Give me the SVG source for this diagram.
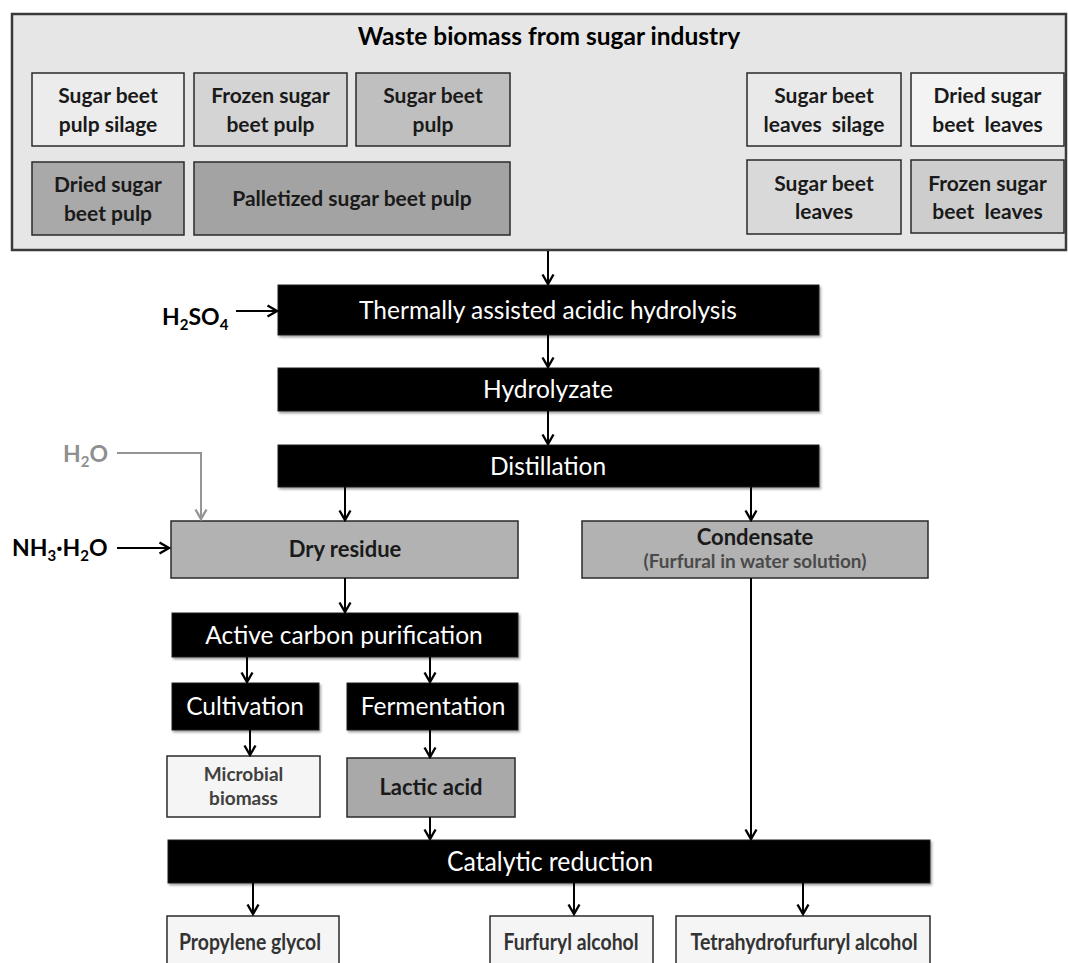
<svg xmlns="http://www.w3.org/2000/svg" width="1068" height="963" viewBox="0 0 1068 963">
<style>
  .blk{fill:#000;stroke:#222;stroke-width:1;filter:url(#sh)}
  .gbox{stroke:#2a2a2a;stroke-width:1.5}
  .wt{font-family:Lato,"Open Sans",sans-serif;font-size:24.5px;fill:#fff;text-anchor:middle}
  .bt{font-family:Lato,"Open Sans",sans-serif;font-size:21px;font-weight:bold;fill:#1a1a1a;text-anchor:middle}
  .chem{font-family:Lato,"Open Sans",sans-serif;font-size:23px;font-weight:bold;fill:#000}
  .conn line,.conn polyline{stroke:#000;stroke-width:2;fill:none;marker-end:url(#ah)}
  .conn .gray{stroke:#959595;marker-end:url(#ahg)}
</style>
<defs>
  <filter id="sh" x="-5%" y="-20%" width="110%" height="150%">
    <feDropShadow dx="1.5" dy="2" stdDeviation="1.2" flood-color="#000" flood-opacity="0.35"/>
  </filter>
  <marker id="ah" viewBox="0 0 14 14" refX="12.5" refY="7" markerWidth="14" markerHeight="14" markerUnits="userSpaceOnUse" orient="auto">
    <path d="M3,1.5 L12.5,7 L3,12.5" fill="none" stroke="#000" stroke-width="2.4"/>
  </marker>
  <marker id="ahg" viewBox="0 0 14 14" refX="12.5" refY="7" markerWidth="14" markerHeight="14" markerUnits="userSpaceOnUse" orient="auto">
    <path d="M3,1.5 L12.5,7 L3,12.5" fill="none" stroke="#959595" stroke-width="2.4"/>
  </marker>
</defs>
<rect width="1068" height="963" fill="#fff"/>

<g id="waste-biomass">
  <rect x="12" y="14" width="1054" height="236" fill="#e6e6e6" stroke="#3a3a3a" stroke-width="2.5"/>
  <text x="549" y="45" class="bt" style="font-size:24.5px;fill:#000">Waste biomass from sugar industry</text>
</g>

<g id="sbp-silage">
  <rect x="32" y="73" width="152" height="73" fill="#ececec" class="gbox"/>
  <text class="bt" x="108" y="103">Sugar beet</text>
  <text class="bt" x="108" y="132">pulp silage</text>
</g>
<g id="frozen-sbp">
  <rect x="194" y="73" width="153" height="73" fill="#d4d4d4" class="gbox"/>
  <text class="bt" x="270.5" y="103">Frozen sugar</text>
  <text class="bt" x="270.5" y="132">beet pulp</text>
</g>
<g id="sbp">
  <rect x="356" y="73" width="154" height="73" fill="#bfbfbf" class="gbox"/>
  <text class="bt" x="433" y="103">Sugar beet</text>
  <text class="bt" x="433" y="132">pulp</text>
</g>
<g id="dried-sbp">
  <rect x="32" y="162" width="152" height="73" fill="#a9a9a9" class="gbox"/>
  <text class="bt" x="108" y="192">Dried sugar</text>
  <text class="bt" x="108" y="221">beet pulp</text>
</g>
<g id="palletized-sbp">
  <rect x="194" y="162" width="316" height="73" fill="#a3a3a3" class="gbox"/>
  <text class="bt" x="352" y="206">Palletized sugar beet pulp</text>
</g>
<g id="sbl-silage">
  <rect x="747" y="73" width="154" height="73" fill="#e9e9e9" class="gbox"/>
  <text class="bt" x="824" y="103">Sugar beet</text>
  <text class="bt" x="824" y="132" xml:space="preserve">leaves  silage</text>
</g>
<g id="dried-sbl">
  <rect x="911" y="73" width="153" height="73" fill="#f3f3f3" class="gbox"/>
  <text class="bt" x="987.5" y="103">Dried sugar</text>
  <text class="bt" x="987.5" y="132" xml:space="preserve">beet  leaves</text>
</g>
<g id="sbl">
  <rect x="747" y="160" width="154" height="74" fill="#d9d9d9" class="gbox"/>
  <text class="bt" x="824" y="191">Sugar beet</text>
  <text class="bt" x="824" y="219">leaves</text>
</g>
<g id="frozen-sbl">
  <rect x="911" y="160" width="153" height="73" fill="#cdcdcd" class="gbox"/>
  <text class="bt" x="987.5" y="191">Frozen sugar</text>
  <text class="bt" x="987.5" y="219" xml:space="preserve">beet  leaves</text>
</g>

<g id="h2so4">
  <text class="chem" x="162" y="325">H<tspan font-size="15" dy="5">2</tspan><tspan dy="-5">SO</tspan><tspan font-size="15" dy="5">4</tspan></text>
</g>
<g id="h2o">
  <text class="chem" x="63" y="462" style="fill:#8f8f8f">H<tspan font-size="15" dy="5">2</tspan><tspan dy="-5">O</tspan></text>
</g>
<g id="nh3h2o">
  <text class="chem" x="12" y="556">NH<tspan font-size="15" dy="5">3</tspan><tspan dy="-5">·H</tspan><tspan font-size="15" dy="5">2</tspan><tspan dy="-5">O</tspan></text>
</g>

<g id="hydrolysis">
  <rect x="278" y="285" width="541" height="50" class="blk"/>
  <text class="wt" x="548" y="319">Thermally assisted acidic hydrolysis</text>
</g>
<g id="hydrolyzate">
  <rect x="278" y="368" width="541" height="43" class="blk"/>
  <text class="wt" x="548" y="398">Hydrolyzate</text>
</g>
<g id="distillation">
  <rect x="278" y="445" width="541" height="42" class="blk"/>
  <text class="wt" x="548" y="475">Distillation</text>
</g>
<g id="dry-residue">
  <rect x="171" y="521" width="347" height="57" fill="#b2b2b2" class="gbox"/>
  <text class="bt" x="345" y="557" style="font-size:22px">Dry residue</text>
</g>
<g id="condensate">
  <rect x="582" y="521" width="346" height="57" fill="#b2b2b2" class="gbox"/>
  <text class="bt" x="755" y="545" style="font-size:22px">Condensate</text>
  <text class="bt" x="755" y="568" style="font-size:19px;fill:#4a4a4a">(Furfural in water solution)</text>
</g>
<g id="active-carbon">
  <rect x="172" y="613" width="346" height="44" class="blk"/>
  <text class="wt" x="344" y="644">Active carbon purification</text>
</g>
<g id="cultivation">
  <rect x="172" y="683" width="147" height="47" class="blk"/>
  <text class="wt" x="245" y="715">Cultivation</text>
</g>
<g id="fermentation">
  <rect x="347" y="683" width="171" height="47" class="blk"/>
  <text class="wt" x="433" y="715">Fermentation</text>
</g>
<g id="microbial-biomass">
  <rect x="167" y="756" width="153" height="61" fill="#f5f5f5" class="gbox"/>
  <text class="bt" x="243.5" y="781" style="font-size:19px;fill:#404040">Microbial</text>
  <text class="bt" x="243.5" y="805" style="font-size:19px;fill:#404040">biomass</text>
</g>
<g id="lactic-acid">
  <rect x="347" y="758" width="168" height="59" fill="#a9a9a9" class="gbox"/>
  <text class="bt" x="431" y="795" style="font-size:22px">Lactic acid</text>
</g>
<g id="catalytic-reduction">
  <rect x="168" y="840" width="762" height="43" class="blk"/>
  <text class="wt" x="550" y="871" style="font-size:26px" textLength="206" lengthAdjust="spacingAndGlyphs">Catalytic reduction</text>
</g>
<g id="propylene-glycol">
  <rect x="167" y="916" width="172" height="60" fill="#f5f5f5" class="gbox"/>
  <text class="bt" x="250" y="950" style="font-size:22.5px;fill:#333" textLength="142" lengthAdjust="spacingAndGlyphs">Propylene glycol</text>
</g>
<g id="furfuryl-alcohol">
  <rect x="490" y="916" width="163" height="60" fill="#f5f5f5" class="gbox"/>
  <text class="bt" x="571" y="950" style="font-size:22.5px;fill:#333" textLength="135" lengthAdjust="spacingAndGlyphs">Furfuryl alcohol</text>
</g>
<g id="thfa">
  <rect x="676" y="916" width="254" height="60" fill="#f5f5f5" class="gbox"/>
  <text class="bt" x="804" y="950" style="font-size:22.5px;fill:#333" textLength="227" lengthAdjust="spacingAndGlyphs">Tetrahydrofurfuryl alcohol</text>
</g>

<g id="connectors" class="conn">
  <line x1="548" y1="251" x2="548" y2="284"/>
  <line x1="236" y1="311" x2="277" y2="311"/>
  <line x1="548" y1="335" x2="548" y2="367"/>
  <line x1="548" y1="411" x2="548" y2="444"/>
  <line x1="345" y1="487" x2="345" y2="520"/>
  <line x1="751" y1="487" x2="751" y2="520"/>
  <polyline class="gray" points="117,453 201,453 201,519"/>
  <line x1="117" y1="548" x2="169" y2="548"/>
  <line x1="345" y1="578" x2="345" y2="612"/>
  <line x1="247" y1="657" x2="247" y2="682"/>
  <line x1="430" y1="657" x2="430" y2="682"/>
  <line x1="250" y1="730" x2="250" y2="755"/>
  <line x1="430" y1="730" x2="430" y2="757"/>
  <line x1="430" y1="817" x2="430" y2="839"/>
  <line x1="751" y1="578" x2="751" y2="839"/>
  <line x1="253" y1="883" x2="253" y2="914"/>
  <line x1="574" y1="883" x2="574" y2="914"/>
  <line x1="803" y1="883" x2="803" y2="914"/>
</g>
</svg>
